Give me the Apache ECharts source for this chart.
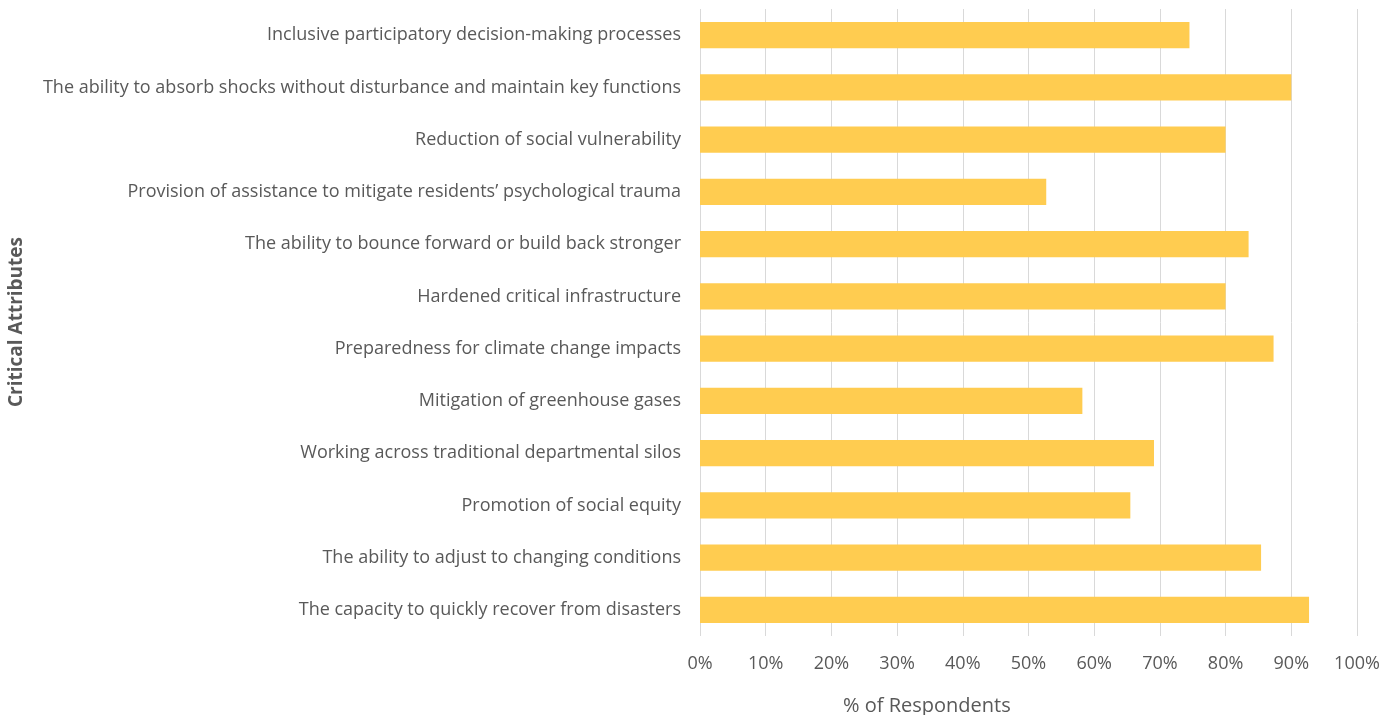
<!DOCTYPE html>
<html><head><meta charset="utf-8">
<script src="https://cdn.jsdelivr.net/npm/echarts@6/dist/echarts.min.js"></script>
<style>html,body{margin:0;padding:0;background:#fff}#c{width:1395px;height:715px}</style>
</head><body><div id="c"></div>
<script>
const categories = [
  "Inclusive participatory decision-making processes",
  "The ability to absorb shocks without disturbance and maintain key functions",
  "Reduction of social vulnerability",
  "Provision of assistance to mitigate residents\u2019 psychological trauma",
  "The ability to bounce forward or build back stronger",
  "Hardened critical infrastructure",
  "Preparedness for climate change impacts",
  "Mitigation of greenhouse gases",
  "Working across traditional departmental silos",
  "Promotion of social equity",
  "The ability to adjust to changing conditions",
  "The capacity to quickly recover from disasters"
];
const values = [74.5, 90.0, 80.0, 52.7, 83.5, 80.0, 87.3, 58.2, 69.1, 65.5, 85.4, 92.7];
const xTicks = [0, 10, 20, 30, 40, 50, 60, 70, 80, 90, 100];
const xAxisTitle = "% of Respondents";
const yAxisTitle = "Critical Attributes";

const font = "Open Sans";
const chart = echarts.init(document.getElementById('c'));
chart.setOption({
  animation: false,
  grid: { left: 700, right: 38, top: 9, bottom: 79, containLabel: false },
  xAxis: {
    type: 'value', min: xTicks[0], max: xTicks[xTicks.length - 1], interval: 10,
    axisLine: { show: false }, axisTick: { show: false },
    splitLine: { show: true, lineStyle: { color: '#d9d9d9', width: 1 } },
    axisLabel: { formatter: v => v + '%', color: '#595959', fontFamily: font, fontSize: 18, margin: 19 }
  },
  yAxis: {
    type: 'category', data: categories, inverse: true,
    axisLine: { show: false }, axisTick: { show: false },
    axisLabel: { color: '#595959', fontFamily: font, fontSize: 18, margin: 19, padding: [3, 0, 0, 0] }
  },
  series: [{
    type: 'bar', data: values, barWidth: '50%',
    itemStyle: { color: '#FFCC50' }
  }],
  graphic: [
    { type: 'text', left: 843, top: 696, style: { text: xAxisTitle, fill: '#595959', font: '20px "' + font + '"' } },
    { type: 'text', left: 7, top: 237, rotation: Math.PI / 2,
      style: { text: yAxisTitle, fill: '#595959', font: 'bold 19px "' + font + '"', x: 0, y: 0 } }
  ]
});
</script></body></html>
